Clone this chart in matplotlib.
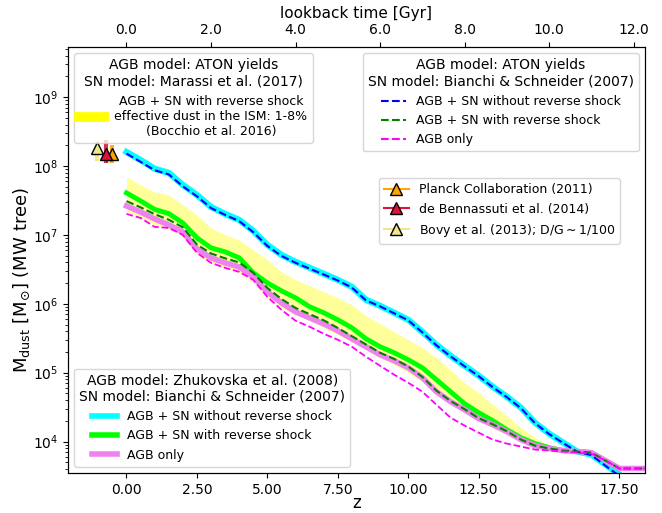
#!/usr/bin/env python3
import numpy as np
import matplotlib
matplotlib.use("Agg")
import matplotlib.pyplot as plt
from matplotlib.lines import Line2D

# redshift grid of the model curves
z = [0.0, 0.5, 1.0, 1.5, 2.0, 2.5, 3.0, 3.5, 4.0, 4.5, 5.0, 5.5, 6.0, 6.5,
     7.0, 7.5, 8.0, 8.5, 9.0, 9.5, 10.0, 10.5, 11.0, 11.5, 12.0, 12.5, 13.0,
     13.5, 14.0, 14.5, 15.0, 15.5, 16.0, 16.5, 17.0, 17.5, 18.0, 18.4]

# log10 of dust mass, Zhukovska et al. (2008) AGB + Bianchi & Schneider SN
log_zh_norev = [8.203, 8.087, 7.960, 7.900, 7.725, 7.580, 7.406, 7.304, 7.217,
                7.058, 6.855, 6.710, 6.609, 6.522, 6.435, 6.348, 6.246, 6.058,
                5.971, 5.870, 5.768, 5.594, 5.406, 5.246, 5.101, 4.957, 4.797,
                4.652, 4.493, 4.275, 4.116, 3.986, 3.855, 3.812, 3.667, 3.522,
                3.377, 3.304]
log_zh_rev = [7.609, 7.493, 7.370, 7.310, 7.174, 6.957, 6.812, 6.754, 6.667,
              6.449, 6.304, 6.188, 6.087, 5.957, 5.870, 5.768, 5.652, 5.493,
              5.377, 5.290, 5.188, 5.072, 4.899, 4.725, 4.551, 4.420, 4.304,
              4.174, 4.058, 3.971, 3.913, 3.870, 3.855, 3.841, 3.725, 3.609,
              3.609, 3.609]
log_zh_agb = [7.420, 7.333, 7.232, 7.145, 7.043, 6.800, 6.667, 6.594, 6.536,
              6.391, 6.174, 6.014, 5.884, 5.797, 5.710, 5.609, 5.493, 5.377,
              5.261, 5.174, 5.072, 4.928, 4.725, 4.580, 4.464, 4.333, 4.246,
              4.145, 4.029, 3.942, 3.899, 3.870, 3.855, 3.841, 3.725, 3.609,
              3.609, 3.609]

# ATON AGB + Bianchi & Schneider SN
log_aton_norev = [8.180, 8.060, 7.938, 7.878, 7.705, 7.560, 7.390, 7.290, 7.200,
                  7.040, 6.840, 6.695, 6.595, 6.510, 6.425, 6.338, 6.236, 6.050,
                  5.963, 5.862, 5.760, 5.586, 5.398, 5.238, 5.093, 4.950, 4.790,
                  4.645, 4.485, 4.268, 4.110, 3.980, 3.850, 3.805, 3.650, 3.500,
                  3.360, 3.290]
log_aton_rev = [7.490, 7.400, 7.300, 7.220, 7.110, 6.860, 6.730, 6.660, 6.600,
                6.450, 6.230, 6.070, 5.940, 5.850, 5.760, 5.650, 5.530, 5.410,
                5.290, 5.200, 5.090, 4.940, 4.740, 4.590, 4.470, 4.340, 4.250,
                4.150, 4.030, 3.940, 3.900, 3.870, 3.855, 3.841, 3.725, 3.609,
                3.609, 3.609]
log_aton_agb = [7.304, 7.246, 7.116, 7.101, 7.000, 6.740, 6.594, 6.522, 6.464,
                6.348, 6.101, 5.913, 5.754, 5.667, 5.565, 5.478, 5.377, 5.232,
                5.101, 4.971, 4.855, 4.725, 4.536, 4.348, 4.232, 4.130, 4.029,
                3.971, 3.928, 3.884, 3.870, 3.855, 3.841, 3.826, 3.725, 3.609,
                3.609, 3.609]

# Marassi et al. (2017) SN, effective dust 1-8% band (z = 0 ... 16.5)
log_band_hi = [7.841, 7.725, 7.623, 7.580, 7.435, 7.290, 7.101, 7.000, 6.928,
               6.783, 6.638, 6.464, 6.348, 6.261, 6.174, 6.087, 5.986, 5.826,
               5.710, 5.594, 5.478, 5.362, 5.217, 5.043, 4.855, 4.710, 4.536,
               4.377, 4.203, 4.058, 3.942, 3.884, 3.855, 3.841]
log_band_lo = [7.333, 7.261, 7.145, 7.087, 6.971, 6.710, 6.594, 6.522, 6.449,
               6.304, 6.087, 5.942, 5.841, 5.754, 5.652, 5.551, 5.449, 5.333,
               5.217, 5.116, 5.000, 4.870, 4.710, 4.551, 4.420, 4.304, 4.203,
               4.101, 4.014, 3.942, 3.899, 3.870, 3.855, 3.841]

# observations of the Milky Way dust mass
obs_labels = ["Planck Collaboration (2011)", "de Bennassuti et al. (2014)",
              r"Bovy et al. (2013); D/G$\sim$1/100"]
obs_x = [-0.50, -0.73, -1.05]
obs_m = [1.5e8, 1.5e8, 1.85e8]
obs_err_lo = [0.4e8, 0.4e8, 0.65e8]
obs_err_hi = [0.5e8, 0.88e8, 0.55e8]
obs_colors = ["orange", "crimson", "khaki"]

lookback_ticks = [0.0, 2.0, 4.0, 6.0, 8.0, 10.0, 12.0]
z_ticks = [0.0, 2.5, 5.0, 7.5, 10.0, 12.5, 15.0, 17.5]


def center_legend(leg):
    leg.get_title().set_multialignment("center")
    for t in leg.get_texts():
        t.set_multialignment("center")


def main():
    plt.rcParams.update({"font.size": 10})
    fig, ax = plt.subplots(figsize=(6.62, 5.13), dpi=100)
    fig.subplots_adjust(left=0.103, right=0.974, bottom=0.078, top=0.908)

    zz = np.array(z)
    nb = len(log_band_hi)
    ax.fill_between(zz[:nb], 10 ** np.array(log_band_lo), 10 ** np.array(log_band_hi),
                    color="yellow", alpha=0.4, lw=0, zorder=1)

    ax.plot(zz, 10 ** np.array(log_zh_norev), color="cyan", lw=4.5, zorder=2)
    ax.plot(zz, 10 ** np.array(log_zh_rev), color="lime", lw=3.5, zorder=2)
    ax.plot(zz, 10 ** np.array(log_zh_agb), color="violet", lw=4, zorder=2)

    ax.plot(zz, 10 ** np.array(log_aton_norev), color="blue", ls="--", lw=1.5, zorder=3)
    ax.plot(zz, 10 ** np.array(log_aton_rev), color="green", ls="--", lw=1.5, zorder=3)
    ax.plot(zz, 10 ** np.array(log_aton_agb), color="magenta", ls="--", lw=1.3, zorder=3)

    for x, m, lo, hi, c in zip(obs_x, obs_m, obs_err_lo, obs_err_hi, obs_colors):
        ax.errorbar([x], [m], yerr=[[lo], [hi]], fmt="none", ecolor=c,
                    elinewidth=3, alpha=0.9, zorder=4)
        ax.plot([x], [m], marker="^", color=c, mec="k", ms=8, ls="None", zorder=5)

    ax.set_yscale("log")
    ax.set_xlim(-2.07, 18.4)
    ax.set_ylim(3.5e3, 5.3e9)
    ax.set_xticks(z_ticks)
    ax.set_xticklabels([f"{t:.2f}" for t in z_ticks])
    ax.set_xlabel("z", fontsize=12, labelpad=-2)
    ax.set_ylabel(r"$\mathrm{M_{dust}}$ [M$_{\odot}$] (MW tree)", fontsize=13)
    ax.yaxis.set_label_coords(-0.062, 0.453)

    # legends
    h1 = [Line2D([], [], color="yellow", lw=7)]
    leg1 = ax.legend(h1, ["AGB + SN with reverse shock\neffective dust in the ISM: 1-8%\n(Bocchio et al. 2016)"],
                     title="AGB model: ATON yields\nSN model: Marassi et al. (2017)",
                     loc="upper left", fontsize=9, title_fontsize=10)
    center_legend(leg1)
    ax.add_artist(leg1)

    h2 = [Line2D([], [], color=c, ls="--", lw=1.5) for c in ["blue", "green", "magenta"]]
    leg2 = ax.legend(h2, ["AGB + SN without reverse shock", "AGB + SN with reverse shock", "AGB only"],
                     title="AGB model: ATON yields\nSN model: Bianchi & Schneider (2007)",
                     loc="upper right", fontsize=9, title_fontsize=10)
    center_legend(leg2)
    ax.add_artist(leg2)

    h3 = [Line2D([], [], color=c, marker="^", mfc=c, mec="k", ms=8, lw=1.5) for c in obs_colors]
    leg3 = ax.legend(h3, obs_labels, loc="upper right", bbox_to_anchor=(0.957, 0.692),
                     borderaxespad=0, fontsize=9)
    ax.add_artist(leg3)

    h4 = [Line2D([], [], color=c, lw=4) for c in ["cyan", "lime", "violet"]]
    leg4 = ax.legend(h4, ["AGB + SN without reverse shock", "AGB + SN with reverse shock", "AGB only"],
                     title="AGB model: Zhukovska et al. (2008)\nSN model: Bianchi & Schneider (2007)",
                     loc="lower left", fontsize=9, title_fontsize=10)
    center_legend(leg4)

    # lookback time axis on top
    ax2 = ax.twiny()
    ax2.set_xlim(-2.07 / 1.5, 18.4 / 1.5)
    ax2.set_xticks(lookback_ticks)
    ax2.set_xticklabels([f"{t:.1f}" for t in lookback_ticks], fontsize=10)
    ax2.set_xlabel("lookback time [Gyr]", fontsize=11)

    fig.savefig("out.png", dpi=100)


if __name__ == "__main__":
    main()
